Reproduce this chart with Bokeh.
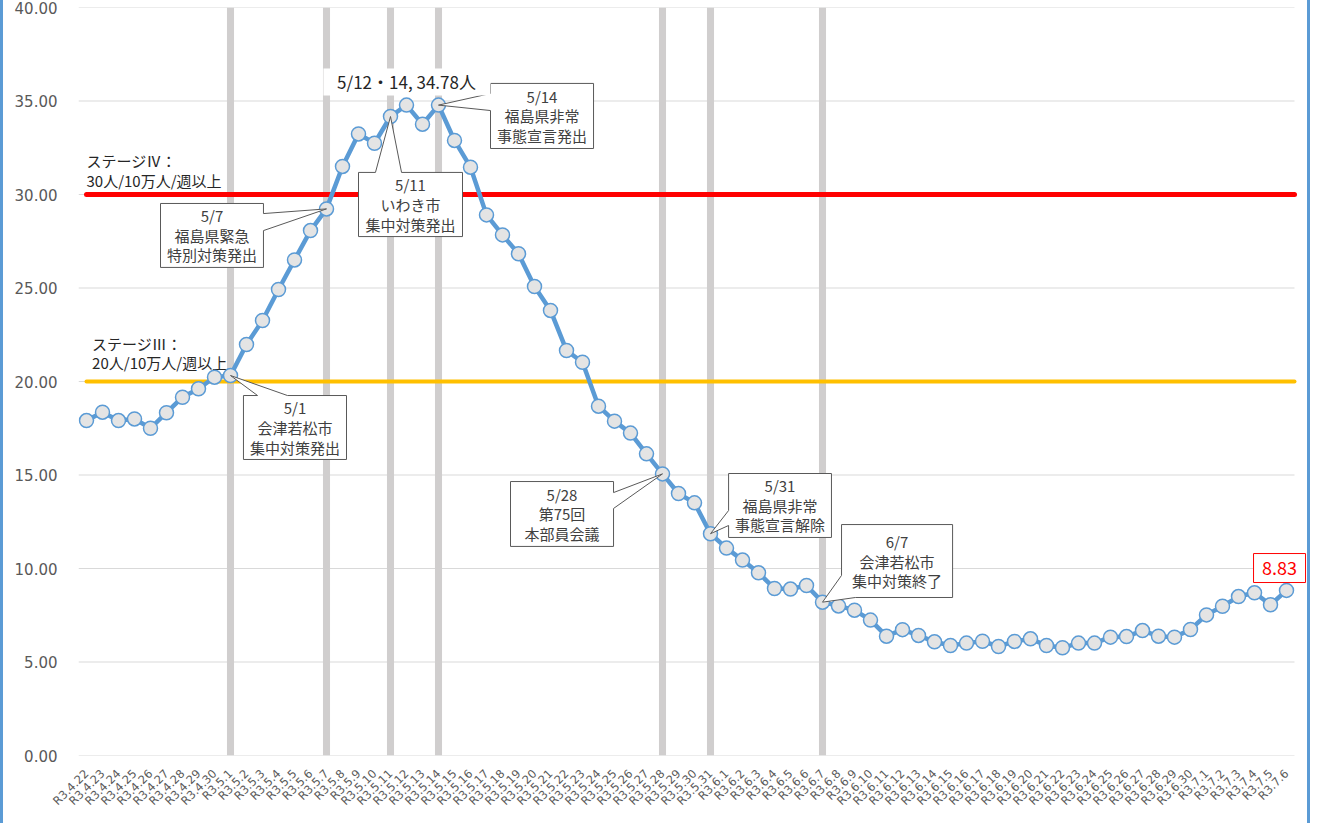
import math
from bokeh.plotting import figure
from bokeh.models import Range1d, FixedTicker, NumeralTickFormatter, CustomJSTickFormatter
from bokeh.core.properties import value
from bokeh.embed import file_html
from bokeh.resources import INLINE

# ---------------- data ----------------
dates = [
    "R3.4.22", "R3.4.23", "R3.4.24", "R3.4.25", "R3.4.26", "R3.4.27", "R3.4.28", "R3.4.29", "R3.4.30",
    "R3.5.1", "R3.5.2", "R3.5.3", "R3.5.4", "R3.5.5", "R3.5.6", "R3.5.7", "R3.5.8", "R3.5.9", "R3.5.10",
    "R3.5.11", "R3.5.12", "R3.5.13", "R3.5.14", "R3.5.15", "R3.5.16", "R3.5.17", "R3.5.18", "R3.5.19",
    "R3.5.20", "R3.5.21", "R3.5.22", "R3.5.23", "R3.5.24", "R3.5.25", "R3.5.26", "R3.5.27", "R3.5.28",
    "R3.5.29", "R3.5.30", "R3.5.31",
    "R3.6.1", "R3.6.2", "R3.6.3", "R3.6.4", "R3.6.5", "R3.6.6", "R3.6.7", "R3.6.8", "R3.6.9", "R3.6.10",
    "R3.6.11", "R3.6.12", "R3.6.13", "R3.6.14", "R3.6.15", "R3.6.16", "R3.6.17", "R3.6.18", "R3.6.19",
    "R3.6.20", "R3.6.21", "R3.6.22", "R3.6.23", "R3.6.24", "R3.6.25", "R3.6.26", "R3.6.27", "R3.6.28",
    "R3.6.29", "R3.6.30",
    "R3.7.1", "R3.7.2", "R3.7.3", "R3.7.4", "R3.7.5", "R3.7.6",
]

values = [
    17.91, 18.36, 17.91, 18.00, 17.50, 18.33, 19.16, 19.61, 20.23, 20.32,
    21.98, 23.26, 24.92, 26.50, 28.07, 29.23, 31.50, 33.24, 32.74, 34.17,
    34.78, 33.76, 34.78, 32.89, 31.46, 28.91, 27.84, 26.83, 25.08, 23.80,
    21.66, 21.03, 18.68, 17.88, 17.24, 16.13, 15.06, 14.01, 13.51, 11.86,
    11.09, 10.45, 9.77, 8.93, 8.90, 9.09, 8.20, 8.00, 7.77, 7.24,
    6.38, 6.73, 6.42, 6.08, 5.88, 6.01, 6.11, 5.83, 6.10, 6.24,
    5.88, 5.76, 6.01, 6.01, 6.33, 6.36, 6.68, 6.38, 6.33, 6.74,
    7.52, 7.98, 8.50, 8.70, 8.06, 8.83,
]

event_dates = ["R3.5.1", "R3.5.7", "R3.5.11", "R3.5.14", "R3.5.28", "R3.5.31", "R3.6.7"]

stage3_value = 20
stage4_value = 30
stage3_text = "ステージⅢ：\n20人/10万人/週以上"
stage4_text = "ステージⅣ：\n30人/10万人/週以上"

y_ticks = [0, 5, 10, 15, 20, 25, 30, 35, 40]

# callouts: (event date, text, box [left, right, top, bottom], tail side, tail base a, tail base b)
callouts = [
    ("R3.5.1", "5/1\n会津若松市\n集中対策発出", (10.31, 16.75, 19.25, 15.83), "top", 11.19, 13.06),
    ("R3.5.7", "5/7\n福島県緊急\n特別対策発出", (5.125, 11.56, 29.52, 26.10), "right", 28.98, 28.07),
    ("R3.5.11", "5/11\nいわき市\n集中対策発出", (17.5, 24.0, 31.18, 27.75), "top", 18.56, 20.19),
    ("R3.5.14", "5/14\n福島県非常\n事態宣言発出", (25.75, 32.19, 35.94, 32.46), "left", 35.40, 34.49),
    ("R3.5.28", "5/28\n第75回\n本部員会議", (27.0, 33.44, 14.65, 11.18), "right", 14.06, 13.21),
    ("R3.5.31", "5/31\n福島県非常\n事態宣言解除", (40.63, 47.06, 15.08, 11.66), "left", 13.10, 12.30),
    ("R3.6.7", "6/7\n会津若松市\n集中対策終了", (47.69, 54.63, 12.35, 8.45), "corner", 48.56, 9.63),
]

# ---------------- figure ----------------
JP = "Noto Sans CJK JP"
NUM = "DejaVu Sans"

n = len(dates)
xpos = [i + 0.5 for i in range(n)]          # category centres
grid_end = n                                # end of the category band

p = figure(
    x_range=Range1d(0, n + 0.75),
    y_range=Range1d(0, 40),
    width=1310, height=823,
    output_backend="svg", toolbar_location=None,
    min_border_left=75, min_border_right=7, min_border_top=7, min_border_bottom=68,
)
p.styles = {
    "border-left": "3px solid #5b9bd5", "border-right": "3px solid #5b9bd5",
}
p.outline_line_color = None
p.background_fill_color = "white"
p.border_fill_color = "white"

p.xgrid.grid_line_color = None
p.ygrid.grid_line_color = None
# horizontal gridlines across the category band only
p.segment(x0=0, x1=grid_end, y0=y_ticks, y1=y_ticks, line_color="#d9d9d9", line_width=1)

p.xaxis.ticker = FixedTicker(ticks=xpos)
p.xaxis.formatter = CustomJSTickFormatter(args=dict(labels=dates),
                                          code="return labels[Math.floor(tick)] || '';")
p.yaxis.ticker = FixedTicker(ticks=y_ticks)
p.yaxis.formatter = NumeralTickFormatter(format="0.00")
for ax in (p.xaxis, p.yaxis):
    ax.axis_line_color = None
    ax.major_tick_line_color = None
    ax.minor_tick_line_color = None
    ax.major_label_text_color = "#595959"
    ax.major_label_text_font = NUM
p.yaxis.major_label_text_font_size = "15px"
p.yaxis.major_label_standoff = 15
p.xaxis.major_label_text_font_size = "11.5px"
p.xaxis.major_label_orientation = math.pi / 4
p.xaxis.major_label_standoff = 10

# event bars
event_x = [dates.index(d) + 0.5 for d in event_dates]
p.vbar(x=event_x, top=40, bottom=0, width=0.44, fill_color="#d0cece", line_color=None)

# stage lines
p.segment(x0=[xpos[0]], x1=[grid_end], y0=[stage4_value], y1=[stage4_value],
          line_color="#ff0000", line_width=5, line_cap="round")
p.segment(x0=[xpos[0]], x1=[grid_end], y0=[stage3_value], y1=[stage3_value],
          line_color="#ffc000", line_width=4, line_cap="round")

# stage texts
p.text(x=[0.5], y=[31.28], text=[stage4_text], text_font=value(JP), text_font_size="15px",
       text_color="#262626", text_align="left", text_baseline="middle", text_line_height=0.93)
p.text(x=[0.85], y=[21.52], text=[stage3_text], text_font=value(JP), text_font_size="15px",
       text_color="#262626", text_align="left", text_baseline="middle", text_line_height=0.93)

# data
p.line(x=xpos, y=values, line_color="#5b9bd5", line_width=4.5, line_join="round")
p.scatter(x=xpos, y=values, size=14, fill_color="#e4e4e4", line_color="#5b9bd5", line_width=1.5)

# callouts
xs, ys, tx, ty, tt = [], [], [], [], []
for d, txt, (L, R, T, B), side, a, b in callouts:
    i = dates.index(d)
    px, py = xpos[i], values[i]
    if side == "top":
        pts = [(L, T), (a, T), (px, py), (b, T), (R, T), (R, B), (L, B)]
    elif side == "right":
        pts = [(L, T), (R, T), (R, a), (px, py), (R, b), (R, B), (L, B)]
    elif side == "left":
        pts = [(L, T), (R, T), (R, B), (L, B), (L, b), (px, py), (L, a)]
    else:
        pts = [(L, T), (R, T), (R, B), (a, B), (px, py), (L, b)]
    xs.append([q[0] for q in pts])
    ys.append([q[1] for q in pts])
    tx.append((L + R) / 2)
    ty.append((T + B) / 2)
    tt.append(txt)

p.patches(xs=xs, ys=ys, fill_color="white", line_color="#595959", line_width=1, line_join="miter")
p.text(x=tx, y=ty, text=tt, text_font=value(JP), text_font_size="15px", text_color="#404040",
       text_align="center", text_baseline="middle", text_line_height=0.93)

# peak label
peak_i = dates.index("R3.5.12")
peak_text = f"5/12・14, {values[peak_i]:.2f}人"
p.quad(left=[15.31], right=[25.75], top=[36.74], bottom=[35.29], fill_color="white", line_color=None)
p.text(x=[20.5], y=[36.02], text=[peak_text], text_font=value(JP), text_font_size="17px",
       text_color="#262626", text_align="center", text_baseline="middle")

# last value label
p.quad(left=[73.44], right=[76.69], top=[10.80], bottom=[9.25], fill_color="white",
       line_color="#ff0000", line_width=1)
p.text(x=[75.06], y=[10.02], text=[f"{values[-1]:.2f}"], text_font=value(JP), text_font_size="18px",
       text_color="#ff0000", text_align="center", text_baseline="middle")

open("out.html", "w").write(file_html(p, INLINE))
